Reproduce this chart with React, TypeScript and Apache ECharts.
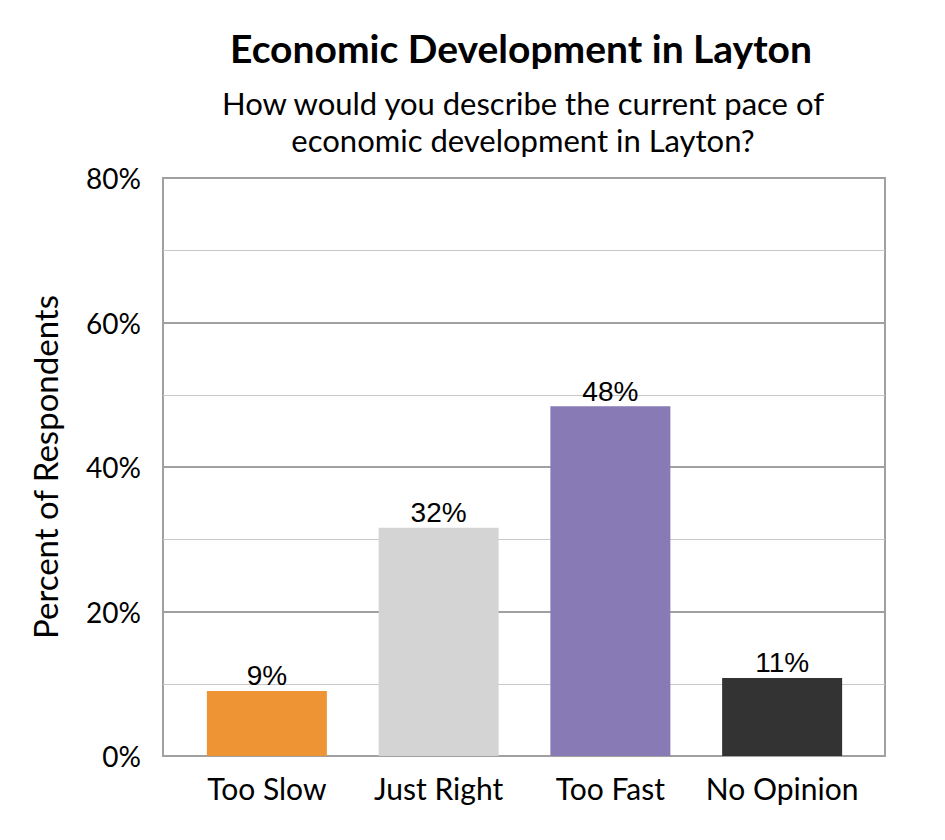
import React, { useEffect, useRef } from "react";
import * as echarts from "echarts";

const categories = ["Too Slow", "Just Right", "Too Fast", "No Opinion"];
const values = [9.0, 31.6, 48.4, 10.8];
const barColors = ["#EE9434", "#D4D4D4", "#877AB5", "#333333"];
const yTicks = [0, 20, 40, 60, 80];

const FONT = "Lato, 'Noto Sans', sans-serif";

export default function App() {
  const ref = useRef<HTMLDivElement>(null);
  useEffect(() => {
    if (!ref.current) return;
    const chart = echarts.init(ref.current, null, { renderer: "svg" });
    chart.setOption({
      animation: false,
      backgroundColor: "#ffffff",
      title: [
        {
          text: "Economic Development in Layton",
          left: 516,
          top: 23,
          textAlign: "center",
          textStyle: { fontFamily: FONT, fontSize: 39, fontWeight: "bold", color: "#000" },
        },
        {
          text: "How would you describe the current pace of\neconomic development in Layton?",
          left: 518,
          top: 79,
          textAlign: "center",
          textStyle: { fontFamily: FONT, fontSize: 31, fontWeight: "normal", color: "#000", lineHeight: 37 },
        },
      ],
      grid: [
        { left: 181, right: 77, top: 178, bottom: 84 },
        { left: 163, right: 60, top: 178, bottom: 84, show: true, borderColor: "#A0A0A0", borderWidth: 2, backgroundColor: "transparent" },
      ],
      xAxis: [
        {
          type: "category",
          gridIndex: 0,
          data: categories,
          axisLine: { show: false },
          axisTick: { show: false },
          axisLabel: { fontFamily: FONT, fontSize: 30, color: "#000", margin: 17, interval: 0 },
        },
        {
          type: "value",
          gridIndex: 1,
          min: 0,
          max: 1,
          show: false,
        },
      ],
      yAxis: [
        {
          type: "value",
          gridIndex: 0,
          min: 0,
          max: 80,
          show: false,
        },
        {
          type: "value",
          gridIndex: 1,
          min: 0,
          max: 80,
          interval: 10,
          axisLine: { show: false },
          axisTick: { show: false },
          axisLabel: { show: false },
          splitLine: { show: true, lineStyle: { color: "#C8C8C8", width: 1 } },
        },
        {
          type: "value",
          gridIndex: 1,
          min: 0,
          max: 80,
          interval: 20,
          position: "left",
          name: "Percent of Respondents",
          nameLocation: "middle",
          nameGap: 102,
          nameTextStyle: { fontFamily: FONT, fontSize: 33, color: "#000" },
          axisLine: { show: false },
          axisTick: { show: false },
          axisLabel: {
            fontFamily: FONT,
            fontSize: 28,
            color: "#000",
            margin: 22,
            formatter: (v: number) => (yTicks.includes(v) ? v + "%" : ""),
          },
          splitLine: { show: true, lineStyle: { color: "#A0A0A0", width: 2 } },
        },
      ],
      series: [
        {
          type: "bar",
          xAxisIndex: 0,
          yAxisIndex: 0,
          barWidth: 120,
          z: 5,
          data: values.map((v, i) => ({ value: v, itemStyle: { color: barColors[i] } })),
          label: {
            show: true,
            position: "top",
            distance: 1,
            fontFamily: "'Liberation Sans', Arial, sans-serif",
            fontSize: 28,
            color: "#000",
            formatter: (p: any) => Math.round(p.value) + "%",
          },
        },
      ],
    });
    return () => chart.dispose();
  }, []);
  return (
    <div
      ref={ref}
      style={{ position: "fixed", left: 0, top: 0, width: 945, height: 840 }}
    />
  );
}
